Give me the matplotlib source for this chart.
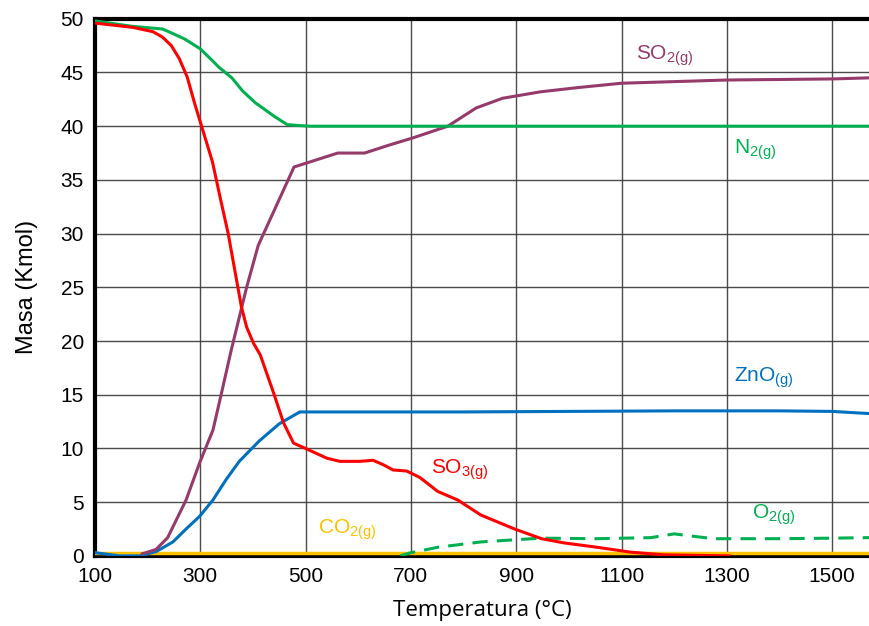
import matplotlib
matplotlib.use("Agg")
import matplotlib.pyplot as plt

plt.rcParams['mathtext.default'] = 'regular'
plt.rcParams['font.family'] = ['Liberation Sans', 'DejaVu Sans']

# datos (Temperatura en °C, Masa en Kmol)
n2_t = [100, 170, 228, 240, 271, 300, 323, 335, 360, 380, 404, 441, 465, 490, 510, 600, 800, 1000, 1200, 1400, 1570]
n2_m = [49.8, 49.3, 49.05, 48.8, 48.1, 47.2, 46.1, 45.5, 44.5, 43.3, 42.2, 40.9, 40.15, 40.05, 40.0, 40.0, 40.0, 40.0, 40.0, 40.0, 40.0]

so2_t = [190, 216, 238, 273, 299, 324, 340, 359, 388, 410, 478, 561, 612, 656, 703, 770, 824, 874, 946, 1018, 1100, 1300, 1500, 1570]
so2_m = [0.2, 0.6, 1.7, 5.2, 8.7, 11.7, 15.1, 19.2, 25.0, 28.9, 36.2, 37.5, 37.5, 38.2, 38.9, 40.0, 41.7, 42.6, 43.2, 43.6, 44.0, 44.3, 44.4, 44.5]

so3_t = [100, 172, 210, 228, 245, 260, 275, 290, 300, 323, 338, 353, 378, 388, 401, 414, 439, 458, 477, 500, 540, 565, 603, 628, 647, 666, 692,
         717, 751, 789, 833, 897, 948, 992, 1054, 1117, 1180, 1240, 1305]
so3_m = [49.6, 49.2, 48.8, 48.3, 47.5, 46.3, 44.6, 42.0, 40.4, 36.7, 33.3, 30.0, 23.2, 21.3, 19.8, 18.7, 15.2, 12.4, 10.5, 10.0, 9.1, 8.8, 8.8, 8.9, 8.5, 8.0, 7.9,
         7.3, 6.0, 5.2, 3.8, 2.5, 1.6, 1.2, 0.8, 0.35, 0.1, 0.05, 0.0]

zno_t = [100, 147, 185, 216, 248, 273, 299, 324, 349, 374, 412, 450, 489, 500, 600, 800, 1000, 1200, 1400, 1500, 1570]
zno_m = [0.3, 0.0, 0.0, 0.4, 1.3, 2.5, 3.7, 5.2, 7.1, 8.8, 10.7, 12.3, 13.4, 13.4, 13.4, 13.4, 13.45, 13.5, 13.5, 13.45, 13.25]

o2_t = [680, 700, 751, 833, 897, 948, 1054, 1156, 1200, 1232, 1275, 1400, 1500, 1570]
o2_m = [0.0, 0.3, 0.8, 1.3, 1.5, 1.65, 1.6, 1.7, 2.05, 1.85, 1.6, 1.6, 1.65, 1.7]

co2_t = [100, 1570]
co2_m = [0.3, 0.3]

fig = plt.figure(figsize=(8.69, 6.26), dpi=100)
ax = fig.add_axes([0.1093, 0.112, 0.8907, 0.858])

ax.plot(co2_t, co2_m, color='#FFC000', lw=2.5, zorder=3)
ax.plot(o2_t, o2_m, color='#00B050', lw=2.2, ls=(0, (5, 3)), zorder=3)
ax.plot(zno_t, zno_m, color='#0070C0', lw=2.2, zorder=3)
ax.plot(so2_t, so2_m, color='#953A6B', lw=2.2, zorder=3)
ax.plot(n2_t, n2_m, color='#00B050', lw=2.2, zorder=3)
ax.plot(so3_t, so3_m, color='#FF0000', lw=2.2, zorder=4)

# etiquetas de las series
fs = 15
ax.text(1128, 46.6, r'SO$_{2(g)}$', color='#953A6B', fontsize=fs, va='center')
ax.text(1314, 37.8, r'N$_{2(g)}$', color='#00B050', fontsize=fs, va='center')
ax.text(1314, 16.6, r'ZnO$_{(g)}$', color='#0070C0', fontsize=fs, va='center')
ax.text(739, 8.0, r'SO$_{3(g)}$', color='#FF0000', fontsize=fs, va='center')
ax.text(1347, 3.8, r'O$_{2(g)}$', color='#00B050', fontsize=fs, va='center')
ax.text(523, 2.4, r'CO$_{2(g)}$', color='#FFC000', fontsize=fs, va='center')

ax.set_xlim(100, 1570)
ax.set_ylim(0, 50)
ax.set_xticks([100, 300, 500, 700, 900, 1100, 1300, 1500])
ax.set_yticks(range(0, 51, 5))
ax.tick_params(labelsize=15, length=0, pad=8)
ax.grid(True, color='#383838', lw=1.0, alpha=0.9)
ax.set_axisbelow(True)

for s in ['left', 'bottom', 'top']:
    ax.spines[s].set_linewidth(3)
    ax.spines[s].set_color('black')
ax.spines['right'].set_visible(False)

ax.set_xlabel('Temperatura (°C)', fontsize=16, family=['Open Sans', 'DejaVu Sans'], labelpad=10)
ax.set_ylabel('Masa (Kmol)', fontsize=17, labelpad=16)

fig.savefig('out.png', dpi=100)
